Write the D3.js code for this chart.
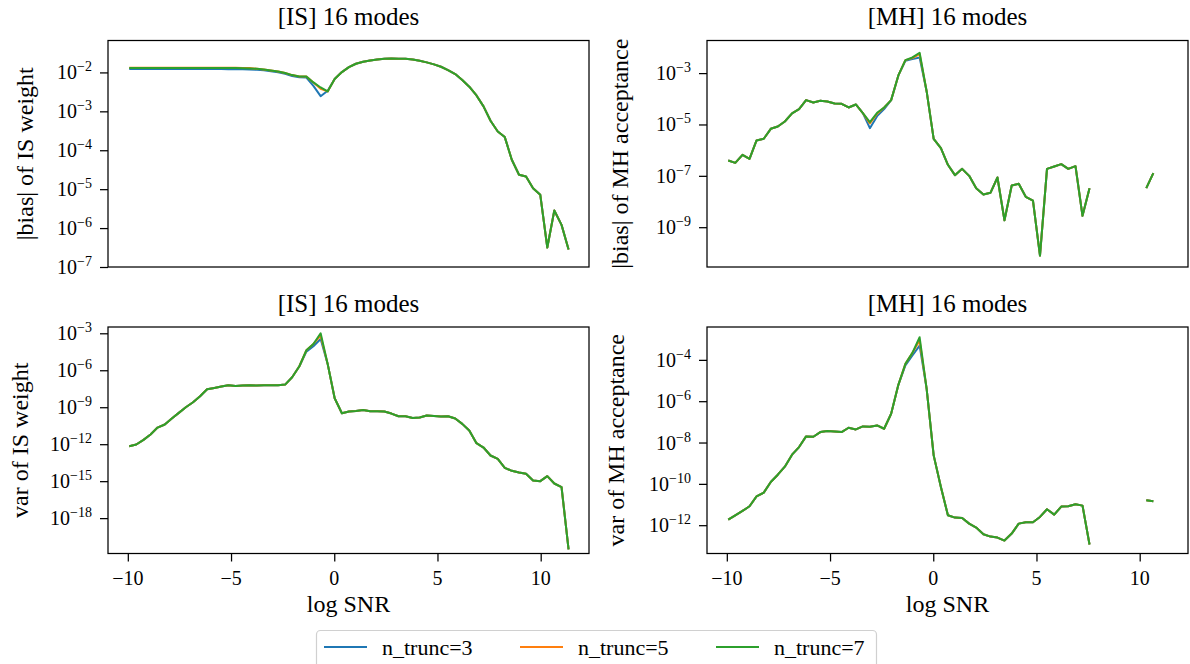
<!DOCTYPE html>
<html>
<head>
<meta charset="utf-8">
<script src="https://cdn.jsdelivr.net/npm/d3@7"></script>
<style>
  body { margin: 0; background: #fff; }
  svg { display: block; }
  text { font-family: "Liberation Serif", "Times New Roman", serif; fill: #000; }
</style>
</head>
<body>
<svg id="chart" width="1190" height="664" font-family="Liberation Serif, serif"></svg>
<script>
// log SNR grid shared by all panels
const logSNR = [
  -9.93, -9.59, -9.24, -8.90, -8.56, -8.21, -7.87, -7.53, -7.19, -6.84,
  -6.50, -6.16, -5.81, -5.47, -5.13, -4.78, -4.44, -4.10, -3.75, -3.41,
  -3.07, -2.72, -2.38, -2.04, -1.69, -1.35, -1.01, -0.66, -0.32, 0.02,
  0.37, 0.71, 1.05, 1.40, 1.74, 2.08, 2.43, 2.77, 3.11, 3.45,
  3.80, 4.14, 4.48, 4.83, 5.17, 5.51, 5.86, 6.20, 6.54, 6.89,
  7.23, 7.57, 7.92, 8.26, 8.60, 8.95, 9.29, 9.63, 9.98, 10.32,
  10.66, 11.01, 11.35
];

// |bias| of IS weight
const isBiasN3 = [
  1.22e-2, 1.22e-2, 1.22e-2, 1.22e-2, 1.22e-2, 1.22e-2, 1.22e-2, 1.22e-2, 1.22e-2, 1.22e-2,
  1.22e-2, 1.22e-2, 1.22e-2, 1.22e-2, 1.21e-2, 1.21e-2, 1.20e-2, 1.19e-2, 1.17e-2, 1.13e-2,
  1.07e-2, 1.01e-2, 9.20e-3, 8.10e-3, 7.50e-3, 7.40e-3, 4.50e-3, 2.45e-3, 3.38e-3, 6.74e-3,
  1.02e-2, 1.37e-2, 1.67e-2, 1.88e-2, 2.03e-2, 2.16e-2, 2.25e-2, 2.29e-2, 2.25e-2, 2.25e-2,
  2.16e-2, 2.00e-2, 1.81e-2, 1.61e-2, 1.40e-2, 1.15e-2, 9.06e-3, 6.35e-3, 4.29e-3, 2.56e-3,
  1.34e-3, 5.71e-4, 3.04e-4, 2.18e-4, 5.69e-5, 2.34e-5, 2.12e-5, 1.06e-5, 7.16e-6, 3.17e-7,
  2.83e-6, 1.21e-6, 2.82e-7
];
const isBiasN5 = [
  1.32e-2, 1.32e-2, 1.32e-2, 1.32e-2, 1.32e-2, 1.32e-2, 1.32e-2, 1.32e-2, 1.32e-2, 1.32e-2,
  1.32e-2, 1.32e-2, 1.32e-2, 1.32e-2, 1.31e-2, 1.31e-2, 1.30e-2, 1.29e-2, 1.24e-2, 1.19e-2,
  1.12e-2, 1.06e-2, 9.62e-3, 8.53e-3, 7.89e-3, 7.80e-3, 5.53e-3, 3.80e-3, 3.25e-3, 6.74e-3,
  1.02e-2, 1.37e-2, 1.67e-2, 1.88e-2, 2.03e-2, 2.16e-2, 2.25e-2, 2.29e-2, 2.25e-2, 2.25e-2,
  2.16e-2, 2.00e-2, 1.81e-2, 1.61e-2, 1.40e-2, 1.15e-2, 9.06e-3, 6.35e-3, 4.29e-3, 2.56e-3,
  1.34e-3, 5.71e-4, 3.04e-4, 2.18e-4, 5.69e-5, 2.34e-5, 2.12e-5, 1.06e-5, 7.16e-6, 3.17e-7,
  2.83e-6, 1.21e-6, 2.82e-7
];
const isBiasN7 = [
  1.30e-2, 1.30e-2, 1.30e-2, 1.30e-2, 1.30e-2, 1.30e-2, 1.30e-2, 1.30e-2, 1.30e-2, 1.30e-2,
  1.30e-2, 1.30e-2, 1.30e-2, 1.30e-2, 1.29e-2, 1.29e-2, 1.28e-2, 1.27e-2, 1.24e-2, 1.19e-2,
  1.12e-2, 1.06e-2, 9.62e-3, 8.53e-3, 7.89e-3, 7.80e-3, 5.53e-3, 4.11e-3, 3.25e-3, 6.74e-3,
  1.02e-2, 1.37e-2, 1.67e-2, 1.88e-2, 2.03e-2, 2.16e-2, 2.25e-2, 2.29e-2, 2.25e-2, 2.25e-2,
  2.16e-2, 2.00e-2, 1.81e-2, 1.61e-2, 1.40e-2, 1.15e-2, 9.06e-3, 6.35e-3, 4.29e-3, 2.56e-3,
  1.34e-3, 5.71e-4, 3.04e-4, 2.18e-4, 5.69e-5, 2.34e-5, 2.12e-5, 1.06e-5, 7.16e-6, 3.17e-7,
  2.83e-6, 1.21e-6, 2.82e-7
];

// |bias| of MH acceptance (null = not shown on the log axis)
const mhBiasN3 = [
  3.95e-7, 3.21e-7, 6.58e-7, 4.59e-7, 2.38e-6, 2.77e-6, 6.78e-6, 8.36e-6, 1.31e-5, 2.69e-5,
  3.95e-5, 8.87e-5, 7.19e-5, 8.36e-5, 7.87e-5, 6.58e-5, 6.38e-5, 4.59e-5, 6.01e-5, 2.77e-5,
  7.19e-6, 2.11e-5, 3.95e-5, 8.87e-5, 8.11e-4, 3.03e-3, 3.51e-3, 4.07e-3, 1.93e-4, 2.77e-6,
  1.20e-6, 2.69e-7, 1.06e-7, 1.87e-7, 1.00e-7, 3.30e-8, 1.87e-8, 2.18e-8, 8.61e-8, 1.87e-9,
  4.20e-8, 4.88e-8, 1.52e-8, 1.09e-8, 7.87e-11, 1.87e-7, 2.31e-7, 2.85e-7, 1.87e-7, 2.38e-7,
  2.77e-9, 3.30e-8, null, null, null, null, null, null, null, 3.30e-8,
  1.27e-7, null, null
];
const mhBiasN5 = [
  3.95e-7, 3.21e-7, 6.58e-7, 4.59e-7, 2.38e-6, 2.77e-6, 6.78e-6, 8.36e-6, 1.31e-5, 2.69e-5,
  3.95e-5, 8.87e-5, 7.19e-5, 8.36e-5, 7.87e-5, 6.58e-5, 6.38e-5, 4.59e-5, 6.01e-5, 2.77e-5,
  1.09e-5, 2.61e-5, 4.59e-5, 8.87e-5, 8.11e-4, 3.21e-3, 3.84e-3, 5.50e-3, 1.93e-4, 2.77e-6,
  1.20e-6, 2.69e-7, 1.06e-7, 1.87e-7, 1.00e-7, 3.30e-8, 1.87e-8, 2.18e-8, 8.61e-8, 1.87e-9,
  4.20e-8, 4.88e-8, 1.52e-8, 1.09e-8, 7.87e-11, 1.87e-7, 2.31e-7, 2.85e-7, 1.87e-7, 2.38e-7,
  2.77e-9, 3.30e-8, null, null, null, null, null, null, null, 3.30e-8,
  1.27e-7, null, null
];
const mhBiasN7 = [
  3.95e-7, 3.21e-7, 6.58e-7, 4.59e-7, 2.38e-6, 2.77e-6, 6.78e-6, 8.36e-6, 1.31e-5, 2.69e-5,
  3.95e-5, 8.87e-5, 7.19e-5, 8.36e-5, 7.87e-5, 6.58e-5, 6.38e-5, 4.59e-5, 6.01e-5, 2.77e-5,
  1.23e-5, 2.85e-5, 4.59e-5, 8.87e-5, 8.11e-4, 3.21e-3, 4.07e-3, 6.19e-3, 1.93e-4, 2.77e-6,
  1.20e-6, 2.69e-7, 1.06e-7, 1.87e-7, 1.00e-7, 3.30e-8, 1.87e-8, 2.18e-8, 8.61e-8, 1.87e-9,
  4.20e-8, 4.88e-8, 1.52e-8, 1.09e-8, 7.87e-11, 1.87e-7, 2.31e-7, 2.85e-7, 1.87e-7, 2.38e-7,
  2.77e-9, 3.30e-8, null, null, null, null, null, null, null, 3.30e-8,
  1.27e-7, null, null
];

// var of IS weight
const isVarN3 = [
  6.89e-13, 9.40e-13, 2.24e-12, 6.08e-12, 2.24e-11, 3.94e-11, 1.21e-10, 3.47e-10, 1.00e-9, 2.54e-9,
  7.80e-9, 2.88e-8, 3.70e-8, 4.74e-8, 6.08e-8, 5.37e-8, 5.71e-8, 6.08e-8, 5.71e-8, 6.08e-8,
  6.08e-8, 6.08e-8, 6.89e-8, 2.70e-7, 2.11e-6, 3.27e-5, 8.83e-5, 3.47e-4, 3.27e-6, 5.37e-9,
  3.27e-10, 4.46e-10, 5.05e-10, 6.08e-10, 4.74e-10, 4.74e-10, 4.46e-10, 3.06e-10, 1.86e-10, 1.86e-10,
  1.36e-10, 1.45e-10, 2.11e-10, 1.98e-10, 1.75e-10, 1.86e-10, 1.21e-10, 4.46e-11, 1.28e-11, 1.21e-12,
  5.37e-13, 1.21e-13, 6.47e-14, 1.21e-14, 6.89e-15, 5.05e-15, 3.94e-15, 1.13e-15, 1.00e-15, 2.54e-15,
  6.47e-16, 3.27e-16, 2.88e-21
];
const isVarN5 = [
  6.89e-13, 9.40e-13, 2.24e-12, 6.08e-12, 2.24e-11, 3.94e-11, 1.21e-10, 3.47e-10, 1.00e-9, 2.54e-9,
  7.80e-9, 2.88e-8, 3.70e-8, 4.74e-8, 6.08e-8, 5.37e-8, 5.71e-8, 6.08e-8, 5.71e-8, 6.08e-8,
  6.08e-8, 6.08e-8, 6.89e-8, 2.70e-7, 2.11e-6, 4.19e-5, 1.36e-4, 6.47e-4, 3.27e-6, 5.37e-9,
  3.27e-10, 4.46e-10, 5.05e-10, 6.08e-10, 4.74e-10, 4.74e-10, 4.46e-10, 3.06e-10, 1.86e-10, 1.86e-10,
  1.36e-10, 1.45e-10, 2.11e-10, 1.98e-10, 1.75e-10, 1.86e-10, 1.21e-10, 4.46e-11, 1.28e-11, 1.21e-12,
  5.37e-13, 1.21e-13, 6.47e-14, 1.21e-14, 6.89e-15, 5.05e-15, 3.94e-15, 1.13e-15, 1.00e-15, 2.54e-15,
  6.47e-16, 3.27e-16, 2.88e-21
];
const isVarN7 = [
  6.89e-13, 9.40e-13, 2.24e-12, 6.08e-12, 2.24e-11, 3.94e-11, 1.21e-10, 3.47e-10, 1.00e-9, 2.54e-9,
  7.80e-9, 2.88e-8, 3.70e-8, 4.74e-8, 6.08e-8, 5.37e-8, 5.71e-8, 6.08e-8, 5.71e-8, 6.08e-8,
  6.08e-8, 6.08e-8, 6.89e-8, 2.70e-7, 2.11e-6, 4.19e-5, 1.36e-4, 1.00e-3, 3.27e-6, 5.37e-9,
  3.27e-10, 4.46e-10, 5.05e-10, 6.08e-10, 4.74e-10, 4.74e-10, 4.46e-10, 3.06e-10, 1.86e-10, 1.86e-10,
  1.36e-10, 1.45e-10, 2.11e-10, 1.98e-10, 1.75e-10, 1.86e-10, 1.21e-10, 4.46e-11, 1.28e-11, 1.21e-12,
  5.37e-13, 1.21e-13, 6.47e-14, 1.21e-14, 6.89e-15, 5.05e-15, 3.94e-15, 1.13e-15, 1.00e-15, 2.54e-15,
  6.47e-16, 3.27e-16, 2.88e-21
];

// var of MH acceptance
const mhVarN3 = [
  1.86e-12, 3.02e-12, 4.89e-12, 8.22e-12, 2.50e-11, 3.76e-11, 1.23e-10, 2.78e-10, 6.78e-10, 2.58e-9,
  6.04e-9, 1.98e-8, 1.91e-8, 3.21e-8, 3.58e-8, 3.45e-8, 3.21e-8, 5.19e-8, 4.31e-8, 6.01e-8,
  5.79e-8, 6.73e-8, 4.65e-8, 2.46e-7, 6.19e-6, 5.32e-5, 1.62e-4, 4.92e-4, 3.97e-6, 2.39e-9,
  7.06e-11, 3.02e-12, 2.33e-12, 2.24e-12, 1.19e-12, 7.66e-13, 3.65e-13, 2.81e-13, 2.52e-13, 1.80e-13,
  3.93e-13, 1.19e-12, 1.39e-12, 1.39e-12, 2.51e-12, 5.89e-12, 3.25e-12, 7.93e-12, 8.22e-12, 1.03e-11,
  8.85e-12, 1.16e-13, null, null, null, null, null, null, null, 1.60e-11,
  1.43e-11, null, null
];
const mhVarN5 = [
  1.86e-12, 3.02e-12, 4.89e-12, 8.22e-12, 2.50e-11, 3.76e-11, 1.23e-10, 2.78e-10, 6.78e-10, 2.58e-9,
  6.04e-9, 1.98e-8, 1.91e-8, 3.21e-8, 3.58e-8, 3.45e-8, 3.21e-8, 5.19e-8, 4.31e-8, 6.01e-8,
  5.79e-8, 6.73e-8, 4.65e-8, 2.46e-7, 6.19e-6, 6.41e-5, 2.18e-4, 8.59e-4, 3.97e-6, 2.39e-9,
  7.06e-11, 3.02e-12, 2.33e-12, 2.24e-12, 1.19e-12, 7.66e-13, 3.65e-13, 2.81e-13, 2.52e-13, 1.80e-13,
  3.93e-13, 1.19e-12, 1.39e-12, 1.39e-12, 2.51e-12, 5.89e-12, 3.25e-12, 7.93e-12, 8.22e-12, 1.03e-11,
  8.85e-12, 1.16e-13, null, null, null, null, null, null, null, 1.60e-11,
  1.43e-11, null, null
];
const mhVarN7 = [
  1.86e-12, 3.02e-12, 4.89e-12, 8.22e-12, 2.50e-11, 3.76e-11, 1.23e-10, 2.78e-10, 6.78e-10, 2.58e-9,
  6.04e-9, 1.98e-8, 1.91e-8, 3.21e-8, 3.58e-8, 3.45e-8, 3.21e-8, 5.19e-8, 4.31e-8, 6.01e-8,
  5.79e-8, 6.73e-8, 4.65e-8, 2.46e-7, 6.19e-6, 6.41e-5, 2.18e-4, 1.24e-3, 3.97e-6, 2.39e-9,
  7.06e-11, 3.02e-12, 2.33e-12, 2.24e-12, 1.19e-12, 7.66e-13, 3.65e-13, 2.81e-13, 2.52e-13, 1.80e-13,
  3.93e-13, 1.19e-12, 1.39e-12, 1.39e-12, 2.51e-12, 5.89e-12, 3.25e-12, 7.93e-12, 8.22e-12, 1.03e-11,
  8.85e-12, 1.16e-13, null, null, null, null, null, null, null, 1.60e-11,
  1.43e-11, null, null
];

const seriesNames = ["n_trunc=3", "n_trunc=5", "n_trunc=7"];
const seriesColors = ["#1f77b4", "#ff7f0e", "#2ca02c"];

// tick labels
const xTickValues = [-10, -5, 0, 5, 10];
const isBiasTickExp = [-2, -3, -4, -5, -6, -7];
const mhBiasTickExp = [-3, -5, -7, -9];
const isVarTickExp = [-3, -6, -9, -12, -15, -18];
const mhVarTickExp = [-4, -6, -8, -10, -12];

// layout
const colLeft = [108, 707];
const rowTop = [40.5, 327];
const W = 481, H = 226.5;
const xDomain = [-10.96, 12.34];
const FONT = "Liberation Serif, Times New Roman, serif";

const panels = [
  { row: 0, col: 0, title: "[IS] 16 modes", ylabel: "|bias| of IS weight",
    series: [isBiasN3, isBiasN5, isBiasN7], ticks: isBiasTickExp, domain: [1e-7, 6.61e-2], ylabelX: 33 },
  { row: 0, col: 1, title: "[MH] 16 modes", ylabel: "|bias| of MH acceptance",
    series: [mhBiasN3, mhBiasN5, mhBiasN7], ticks: mhBiasTickExp, domain: [2.82e-11, 1.86e-2], ylabelX: 628 },
  { row: 1, col: 0, title: "[IS] 16 modes", ylabel: "var of IS weight",
    series: [isVarN3, isVarN5, isVarN7], ticks: isVarTickExp, domain: [1.35e-21, 3.24e-3], ylabelX: 28 },
  { row: 1, col: 1, title: "[MH] 16 modes", ylabel: "var of MH acceptance",
    series: [mhVarN3, mhVarN5, mhVarN7], ticks: mhVarTickExp, domain: [4.27e-14, 3.89e-3], ylabelX: 624 }
];

const svg = d3.select("#chart");
const defs = svg.append("defs");

function label(sel, size) {
  return sel.attr("font-family", FONT).attr("font-size", size).attr("fill", "#000");
}

panels.forEach((p, pi) => {
  const L = colLeft[p.col], T = rowTop[p.row];
  const x = d3.scaleLinear().domain(xDomain).range([L, L + W]);
  const y = d3.scaleLog().domain(p.domain).range([T + H, T]);
  const g = svg.append("g");

  const clipId = "clip" + pi;
  defs.append("clipPath").attr("id", clipId)
    .append("rect").attr("x", L).attr("y", T).attr("width", W).attr("height", H);

  const line = d3.line()
    .defined(d => d[1] != null)
    .x(d => x(d[0]))
    .y(d => y(d[1]));

  p.series.forEach((s, k) => {
    g.append("path")
      .datum(logSNR.map((v, i) => [v, s[i]]))
      .attr("d", line)
      .attr("fill", "none")
      .attr("stroke", seriesColors[k])
      .attr("stroke-width", 2)
      .attr("stroke-linejoin", "round")
      .attr("clip-path", `url(#${clipId})`);
  });

  // y ticks
  const yAxis = d3.axisLeft(y)
    .tickValues(p.ticks.map(e => Math.pow(10, e)))
    .tickSize(8)
    .tickFormat("");
  const ya = g.append("g").attr("transform", `translate(${L},0)`).call(yAxis);
  ya.select(".domain").remove();
  ya.selectAll("line").attr("stroke", "#000").attr("stroke-width", 1.25);

  p.ticks.forEach(e => {
    const t = label(g.append("text"), 20)
      .attr("x", L - 16)
      .attr("y", y(Math.pow(10, e)) + 7)
      .attr("text-anchor", "end");
    t.append("tspan").text("10");
    t.append("tspan").attr("dy", -8).attr("font-size", 14).text("\u2212" + (-e));
  });

  // x ticks on the bottom row only
  if (p.row === 1) {
    const xAxis = d3.axisBottom(x).tickValues(xTickValues).tickSize(8).tickFormat("");
    const xa = g.append("g").attr("transform", `translate(0,${T + H})`).call(xAxis);
    xa.select(".domain").remove();
    xa.selectAll("line").attr("stroke", "#000").attr("stroke-width", 1.25);
    xTickValues.forEach(v => {
      label(g.append("text"), 20)
        .attr("x", x(v))
        .attr("y", T + H + 31)
        .attr("text-anchor", "middle")
        .text(v < 0 ? "\u2212" + (-v) : String(v));
    });
    label(g.append("text"), 24)
      .attr("x", L + W / 2)
      .attr("y", T + H + 58)
      .attr("text-anchor", "middle")
      .text("log SNR");
  }

  // frame
  g.append("rect")
    .attr("x", L).attr("y", T).attr("width", W).attr("height", H)
    .attr("fill", "none").attr("stroke", "#000").attr("stroke-width", 1.25);

  // title
  label(g.append("text"), 25)
    .attr("x", L + W / 2)
    .attr("y", T - 15.5)
    .attr("text-anchor", "middle")
    .text(p.title);

  // y label
  label(g.append("text"), 24)
    .attr("transform", `translate(${p.ylabelX},${T + H / 2}) rotate(-90)`)
    .attr("text-anchor", "middle")
    .text(p.ylabel);
});

// legend
const legend = svg.append("g");
legend.append("rect")
  .attr("x", 316.5).attr("y", 630.5).attr("width", 560).attr("height", 50)
  .attr("rx", 4).attr("fill", "#fff").attr("stroke", "#d0d0d0").attr("stroke-width", 1.2);
const legendX = [324, 520, 716];
seriesNames.forEach((name, k) => {
  legend.append("line")
    .attr("x1", legendX[k]).attr("x2", legendX[k] + 43)
    .attr("y1", 647).attr("y2", 647)
    .attr("stroke", seriesColors[k]).attr("stroke-width", 2);
  label(legend.append("text"), 22)
    .attr("x", legendX[k] + 58)
    .attr("y", 655)
    .text(name);
});
</script>
</body>
</html>
